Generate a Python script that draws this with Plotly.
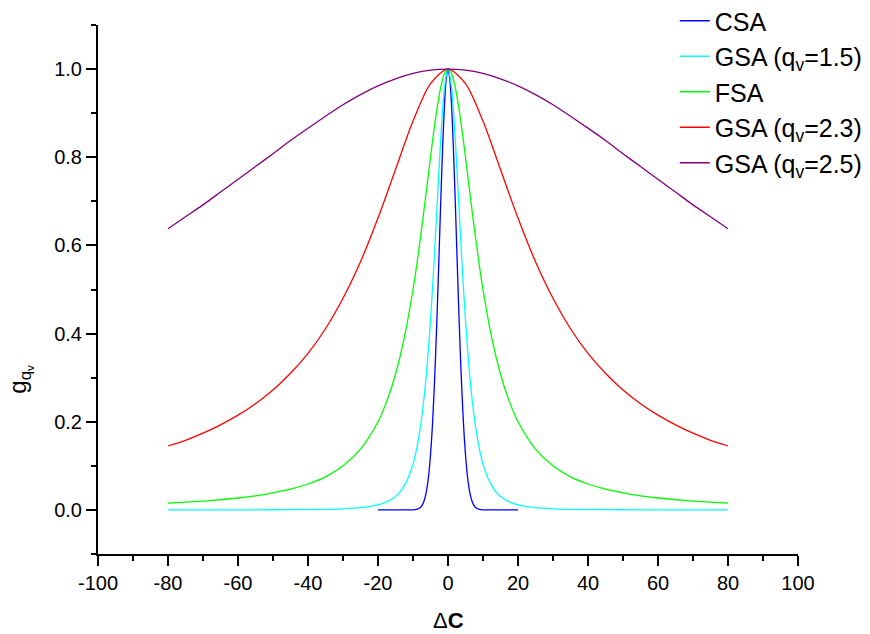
import plotly.graph_objects as go

# ---- data ----
csa_x = [-20, -15, -12, -10, -9, -8, -7.5, -7, -6.5, -6, -5.5, -5, -4.5, -4, -3.5, -3, -2.5, -2, -1.5, -1, -0.5,
         0, 0.5, 1, 1.5, 2, 2.5, 3, 3.5, 4, 4.5, 5, 5.5, 6, 6.5, 7, 7.5, 8, 9, 10, 12, 15, 20]
csa_y = [0, 0, 0, 0.0002, 0.0012, 0.0048, 0.0092, 0.0169, 0.0294, 0.0498, 0.0804, 0.125, 0.185, 0.264, 0.360,
         0.472, 0.594, 0.717, 0.829, 0.920, 0.979,
         1.0, 0.979, 0.920, 0.829, 0.717, 0.594, 0.472, 0.360, 0.264, 0.185, 0.125, 0.0804, 0.0498, 0.0294,
         0.0169, 0.0092, 0.0048, 0.0012, 0.0002, 0, 0, 0]

gsa15_x = [-80, -70, -60, -50, -40, -30, -25, -20, -18, -16, -14, -12, -10, -9, -8, -7, -6, -5, -4, -3, -2, -1,
           0, 1, 2, 3, 4, 5, 6, 7, 8, 9, 10, 12, 14, 16, 18, 20, 25, 30, 40, 50, 60, 70, 80]
gsa15_y = [0.0001, 0.0001, 0.0002, 0.0004, 0.0008, 0.0025, 0.005, 0.0113, 0.0164, 0.0246, 0.0382, 0.0618,
           0.104, 0.137, 0.182, 0.243, 0.324, 0.430, 0.560, 0.707, 0.851, 0.959,
           1.0, 0.959, 0.851, 0.707, 0.560, 0.430, 0.324, 0.243, 0.182, 0.137, 0.104, 0.0618, 0.0382, 0.0246,
           0.0164, 0.0113, 0.005, 0.0025, 0.0008, 0.0004, 0.0002, 0.0001, 0.0001]

fsa_x = [-80, -75, -70, -65, -60, -55, -50, -45, -40, -35, -30, -25, -20, -18, -16, -14, -12, -10, -9, -8, -7,
         -6, -5, -4, -3, -2, -1, 0, 1, 2, 3, 4, 5, 6, 7, 8, 9, 10, 12, 14, 16, 18, 20, 25, 30, 35, 40, 45, 50,
         55, 60, 65, 70, 75, 80]
fsa_y = [0.0154, 0.0175, 0.0200, 0.0231, 0.0270, 0.0320, 0.0385, 0.0471, 0.0588, 0.075, 0.100, 0.138, 0.200,
         0.236, 0.281, 0.338, 0.410, 0.500, 0.552, 0.610, 0.671, 0.735, 0.800, 0.862, 0.917, 0.962, 0.990,
         1.0, 0.990, 0.962, 0.917, 0.862, 0.800, 0.735, 0.671, 0.610, 0.552, 0.500, 0.410, 0.338, 0.281,
         0.236, 0.200, 0.138, 0.100, 0.075, 0.0588, 0.0471, 0.0385, 0.0320, 0.0270, 0.0231, 0.0200, 0.0175,
         0.0154]

gsa23_x = [-80, -75, -70, -65, -60, -55, -50, -45, -40, -35, -30, -25, -20, -15, -10, -5, 0,
           5, 10, 15, 20, 25, 30, 35, 40, 45, 50, 55, 60, 65, 70, 75, 80]
gsa23_y = [0.145, 0.158, 0.174, 0.193, 0.215, 0.241, 0.272, 0.310, 0.355, 0.411, 0.480, 0.563, 0.662, 0.772,
           0.882, 0.967, 1.0, 0.967, 0.882, 0.772, 0.662, 0.563, 0.480, 0.411, 0.355, 0.310, 0.272, 0.241,
           0.215, 0.193, 0.174, 0.158, 0.145]

gsa25_x = [-80, -75, -70, -65, -60, -55, -50, -45, -40, -35, -30, -25, -20, -15, -10, -5, 0,
           5, 10, 15, 20, 25, 30, 35, 40, 45, 50, 55, 60, 65, 70, 75, 80]
gsa25_y = [0.638, 0.665, 0.692, 0.721, 0.750, 0.779, 0.808, 0.838, 0.866, 0.893, 0.919, 0.942, 0.962, 0.978,
           0.990, 0.9975, 1.0, 0.9975, 0.990, 0.978, 0.962, 0.942, 0.919, 0.893, 0.866, 0.838, 0.808, 0.779,
           0.750, 0.721, 0.692, 0.665, 0.638]

series_names = ["CSA", "GSA (q<sub>v</sub>=1.5)", "FSA", "GSA (q<sub>v</sub>=2.3)", "GSA (q<sub>v</sub>=2.5)"]
series_colors = ["#0000FF", "#00FFFF", "#00FF00", "#FF0000", "#800080"]

x_tick_vals = [-100, -80, -60, -40, -20, 0, 20, 40, 60, 80, 100]
x_tick_text = ["-100", "-80", "-60", "-40", "-20", "0", "20", "40", "60", "80", "100"]
y_tick_vals = [0.0, 0.2, 0.4, 0.6, 0.8, 1.0]
y_tick_text = ["0.0", "0.2", "0.4", "0.6", "0.8", "1.0"]

FONT = "Liberation Sans, Arial, sans-serif"

fig = go.Figure()
all_x = [csa_x, gsa15_x, fsa_x, gsa23_x, gsa25_x]
all_y = [csa_y, gsa15_y, fsa_y, gsa23_y, gsa25_y]
for xs, ys, name, col in zip(all_x, all_y, series_names, series_colors):
    fig.add_trace(go.Scatter(x=xs, y=ys, mode="lines", name=name,
                             line=dict(color=col, width=1.3, shape="spline", smoothing=0.8)))

axis_common = dict(showline=True, linecolor="black", linewidth=2, mirror=False,
                   ticks="outside", ticklen=10, tickwidth=1.5, tickcolor="black",
                   showgrid=False, zeroline=False, automargin=False,
                   tickfont=dict(family=FONT, size=20, color="black"))

fig.update_xaxes(range=[-100, 100], tickmode="array", tickvals=x_tick_vals, ticktext=x_tick_text,
                 minor=dict(tickmode="linear", tick0=0, dtick=10, ticks="outside", ticklen=5,
                            tickwidth=1.5, tickcolor="black", showgrid=False),
                 **axis_common)
fig.update_yaxes(range=[-0.1, 1.1], tickmode="array", tickvals=y_tick_vals, ticktext=y_tick_text,
                 minor=dict(tickmode="linear", tick0=0, dtick=0.1, ticks="outside", ticklen=5,
                            tickwidth=1.5, tickcolor="black", showgrid=False),
                 **axis_common)

fig.update_layout(
    width=870, height=634,
    margin=dict(l=98, r=72, t=25, b=80, autoexpand=False),
    plot_bgcolor="white", paper_bgcolor="white",
    font=dict(family=FONT, color="black"),
    legend=dict(x=0.824, y=1.051, xanchor="left", yanchor="top",
                bgcolor="rgba(0,0,0,0)", borderwidth=0,
                font=dict(family=FONT, size=25, color="black"),
                tracegroupgap=0, itemwidth=30),
    annotations=[
        dict(text="g<sub>q<sub>v</sub></sub>", textangle=-90, xref="paper", yref="paper",
             x=-0.111, y=0.33, xanchor="center", yanchor="middle", showarrow=False,
             font=dict(family=FONT, size=24, color="black")),
        dict(text="Δ<b>C</b>", xref="paper", yref="paper", x=0.5, y=-0.125,
             xanchor="center", yanchor="middle", showarrow=False,
             font=dict(family=FONT, size=22, color="black")),
    ],
)

fig.write_html("out.html", config={"displayModeBar": False},
               post_script="document.body.style.margin='0';document.body.style.padding='0';")
